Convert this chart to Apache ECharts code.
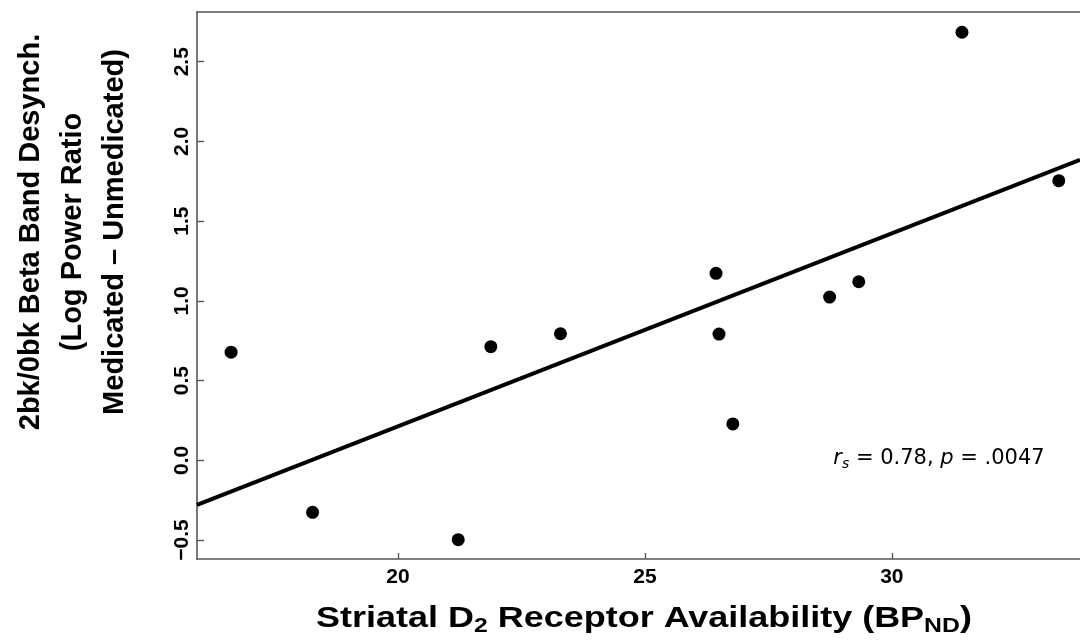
<!DOCTYPE html>
<html>
<head>
<meta charset="utf-8">
<script src="https://cdn.jsdelivr.net/npm/echarts@6/dist/echarts.min.js"></script>
<style>
  html, body { margin: 0; padding: 0; background: #fff; }
  #chart { width: 1080px; height: 642px; }
</style>
</head>
<body>
<div id="chart"></div>
<script>
// ---- data ----
const d2Availability = [16.62, 18.27, 21.22, 21.88, 23.29, 26.44, 26.50, 26.78, 28.74, 29.33, 31.42, 33.38];
const betaDesynch   = [0.678, -0.326, -0.498, 0.713, 0.794, 1.173, 0.792, 0.228, 1.024, 1.120, 2.685, 1.754];
const fitX = [15.93, 33.81];
const fitY = [-0.28, 1.884];
const xTicks = [20, 25, 30];
const yTicks = [-0.5, 0.0, 0.5, 1.0, 1.5, 2.0, 2.5];
const yTickLabels = ['\u22120.5', '0.0', '0.5', '1.0', '1.5', '2.0', '2.5'];
const xRange = [15.93, 33.81];
const yRange = [-0.619, 2.812];

const points = d2Availability.map((x, i) => [x, betaDesynch[i]]);
const fitLine = fitX.map((x, i) => [x, fitY[i]]);

const axisColor = '#555';
const tickFont = { fontFamily: 'Liberation Sans, Arial, sans-serif', fontWeight: 'bold', fontSize: 21, color: '#000' };

const chart = echarts.init(document.getElementById('chart'), null, { renderer: 'canvas' });
chart.setOption({
  backgroundColor: '#fff',
  animation: false,
  grid: { left: 197, top: 12, right: 0, bottom: 83, containLabel: false },
  xAxis: [{
    type: 'value', min: xRange[0], max: xRange[1],
    axisLine: { show: true, onZero: false, lineStyle: { color: axisColor, width: 1.6 } },
    axisTick: { show: true, inside: true, length: 6, customValues: xTicks, lineStyle: { color: axisColor, width: 1.4 } },
    axisLabel: Object.assign({ show: true, margin: 8, customValues: xTicks, formatter: v => String(v) }, tickFont),
    splitLine: { show: false }
  }, {
    type: 'value', position: 'top', min: xRange[0], max: xRange[1],
    axisLine: { show: true, onZero: false, lineStyle: { color: axisColor, width: 1.6 } },
    axisTick: { show: false }, axisLabel: { show: false }, splitLine: { show: false }
  }],
  yAxis: {
    type: 'value', min: yRange[0], max: yRange[1],
    axisLine: { show: true, onZero: false, lineStyle: { color: axisColor, width: 1.6 } },
    axisTick: { show: true, inside: true, length: 7, customValues: yTicks, lineStyle: { color: axisColor, width: 1.4 } },
    axisLabel: Object.assign({
      show: true, rotate: 90, margin: 4, customValues: yTicks,
      formatter: v => { const i = yTicks.findIndex(t => Math.abs(t - v) < 1e-6); return i >= 0 ? yTickLabels[i] : ''; }
    }, tickFont),
    splitLine: { show: false }
  },
  series: [{
    type: 'line', data: fitLine, showSymbol: false, symbol: 'none',
    lineStyle: { color: '#000', width: 4 }, silent: true, z: 2
  }, {
    type: 'scatter', data: points, symbol: 'circle', symbolSize: 13,
    itemStyle: { color: '#000', opacity: 1 }, z: 3
  }],
  graphic: [{
    type: 'text', x: 73, y: 232, rotation: Math.PI / 2,
    style: {
      text: '2bk/0bk Beta Band Desynch.\n(Log Power Ratio\nMedicated \u2013 Unmedicated)',
      font: 'bold 29px "Liberation Sans", Arial, sans-serif',
      fill: '#000', align: 'center', verticalAlign: 'middle', lineHeight: 42
    }
  }, {
    type: 'text', x: 644, y: 619, scaleX: 1.24,
    style: {
      text: '{m|Striatal D}{sub|2}{m| Receptor Availability (BP}{sub|ND}{m|)}',
      fill: '#000', align: 'center', verticalAlign: 'middle',
      rich: {
        m: { font: 'bold 29px "Liberation Sans", Arial, sans-serif', fill: '#000' },
        sub: { font: 'bold 20px "Liberation Sans", Arial, sans-serif', fill: '#000', padding: [14, 0, 0, 0] }
      }
    }
  }, {
    type: 'text', x: 939, y: 459,
    style: {
      text: '{i|r}{sub|s}{n| = 0.78, }{i|p}{n| = .0047}',
      align: 'center', verticalAlign: 'middle', fill: '#000',
      rich: {
        i: { font: 'italic 21px "DejaVu Sans", sans-serif', fill: '#000' },
        n: { font: '21px "DejaVu Sans", sans-serif', fill: '#000' },
        sub: { font: 'italic 14px "DejaVu Sans", sans-serif', fill: '#000', padding: [10, 0, 0, 0] }
      }
    }
  }]
});
</script>
</body>
</html>
